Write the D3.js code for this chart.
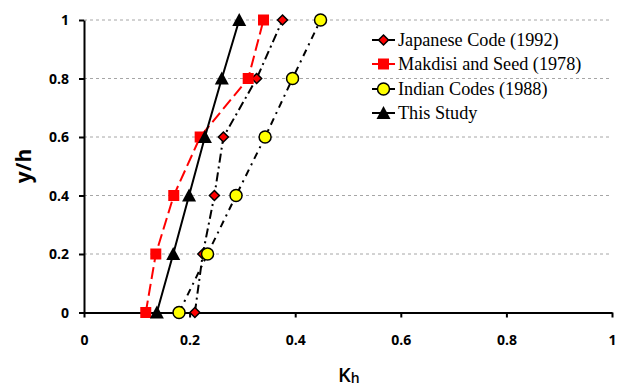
<!DOCTYPE html>
<html><head><meta charset="utf-8">
<script src="https://cdn.jsdelivr.net/npm/d3@7"></script>
<style>body{margin:0;background:#fff}svg{display:block}</style>
</head><body><svg id="c" width="620" height="387"></svg>
<script>
const yLevels = [0, 0.2, 0.4, 0.6, 0.8, 1.0];
const japanese = [0.210, 0.225, 0.247, 0.264, 0.327, 0.376];
const makdisi = [0.117, 0.136, 0.170, 0.220, 0.311, 0.340];
const indian = [0.180, 0.234, 0.288, 0.343, 0.395, 0.448];
const thisStudy = [0.138, 0.169, 0.199, 0.229, 0.261, 0.294];
const xTicks = [0, 0.2, 0.4, 0.6, 0.8, 1];
const yTicks = [0, 0.2, 0.4, 0.6, 0.8, 1];
const seriesNames = ["Japanese Code (1992)", "Makdisi and Seed (1978)", "Indian Codes (1988)", "This Study"];

const series = [
  {name: seriesNames[0], xs: japanese, color: "#000", dash: "9,4,2,4", marker: "diamond", fill: "#ff0000"},
  {name: seriesNames[1], xs: makdisi, color: "#ff0000", dash: "12,5", marker: "square", fill: "#ff0000"},
  {name: seriesNames[2], xs: indian, color: "#000", dash: "7,5,2,5", marker: "circle", fill: "#ffff00"},
  {name: seriesNames[3], xs: thisStudy, color: "#000", dash: null, marker: "triangle", fill: "#000"}
];

const svg = d3.select("#c");
const x = d3.scaleLinear().domain([0, 1]).range([84, 612]);
const y = d3.scaleLinear().domain([0, 1]).range([312.5, 20]);

// grid
svg.append("g").selectAll("line").data(yTicks.filter(d => d > 0)).join("line")
  .attr("x1", x(0)).attr("x2", x(1)).attr("y1", d => y(d)).attr("y2", d => y(d))
  .attr("stroke", "#a6a6a6").attr("stroke-width", 1).attr("stroke-dasharray", "3,3");

// axes
const fmt = d => d === 0 ? "0" : d === 1 ? "1" : d3.format(".1f")(d);
const xAxis = svg.append("g").attr("transform", `translate(0,${y(0)})`)
  .call(d3.axisBottom(x).tickValues(xTicks).tickFormat(fmt).tickSize(5).tickSizeOuter(0));
const yAxis = svg.append("g").attr("transform", `translate(${x(0)},0)`)
  .call(d3.axisLeft(y).tickValues(yTicks).tickFormat(fmt).tickSize(5).tickSizeOuter(0));
[xAxis, yAxis].forEach(a => {
  a.select(".domain").attr("stroke", "#000").attr("stroke-width", 2);
  a.selectAll(".tick line").attr("stroke", "#000").attr("stroke-width", 2);
  a.selectAll("text").attr("font-family", "Open Sans, Liberation Sans, sans-serif")
    .attr("font-weight", "bold").attr("font-size", 14).attr("fill", "#000");
});
xAxis.selectAll("text").attr("dy", "1.75em");
yAxis.selectAll("text").attr("dx", "-0.5em").attr("dy", "0.35em");

// axis titles
svg.append("text").attr("transform", "translate(31,166) rotate(-90)")
  .attr("text-anchor", "middle").attr("font-family", "Open Sans, Liberation Sans, sans-serif")
  .attr("font-weight", "bold").attr("font-size", 21).text("y/h");
const kt = svg.append("text").attr("x", 338).attr("y", 382)
  .attr("font-family", "Open Sans, Liberation Sans, sans-serif").attr("font-weight", "600")
  .attr("font-size", 20);
kt.append("tspan").text("K");
kt.append("tspan").attr("font-size", 14).attr("dy", 1).text("h");

// markers
function drawMarker(g, type, cx, cy, fill) {
  if (type === "diamond") {
    g.append("path").attr("d", `M${cx},${cy-5}L${cx+5},${cy}L${cx},${cy+5}L${cx-5},${cy}Z`)
      .attr("fill", fill).attr("stroke", "#000").attr("stroke-width", 1.5);
  } else if (type === "square") {
    g.append("rect").attr("x", cx-5.5).attr("y", cy-5.5).attr("width", 11).attr("height", 11)
      .attr("fill", fill);
  } else if (type === "circle") {
    g.append("circle").attr("cx", cx).attr("cy", cy).attr("r", 6)
      .attr("fill", fill).attr("stroke", "#000").attr("stroke-width", 1.5);
  } else {
    g.append("path").attr("d", `M${cx},${cy-7}L${cx+7},${cy+6}L${cx-7},${cy+6}Z`).attr("fill", fill);
  }
}

const line = d3.line().x(d => x(d[0])).y(d => y(d[1]));
series.forEach(s => {
  const pts = s.xs.map((v, k) => [v, yLevels[k]]);
  const g = svg.append("g");
  g.append("path").attr("d", line(pts)).attr("fill", "none")
    .attr("stroke", s.color).attr("stroke-width", 2)
    .attr("stroke-dasharray", s.dash);
  s.xs.forEach((v, k) => drawMarker(g, s.marker, x(v), y(yLevels[k]), s.fill));
});

// legend
const legY = [40, 64, 89, 113];
series.forEach((s, i) => {
  const g = svg.append("g");
  g.append("line").attr("x1", 372).attr("x2", 395).attr("y1", legY[i]).attr("y2", legY[i])
    .attr("stroke", s.color).attr("stroke-width", 2);
  drawMarker(g, s.marker, 383.5, legY[i], s.fill);
  g.append("text").attr("x", 398).attr("y", legY[i]).attr("dy", "0.35em")
    .attr("font-family", "Liberation Serif, serif").attr("font-size", 18.2).attr("fill", "#000")
    .text(s.name);
});
</script></body></html>
